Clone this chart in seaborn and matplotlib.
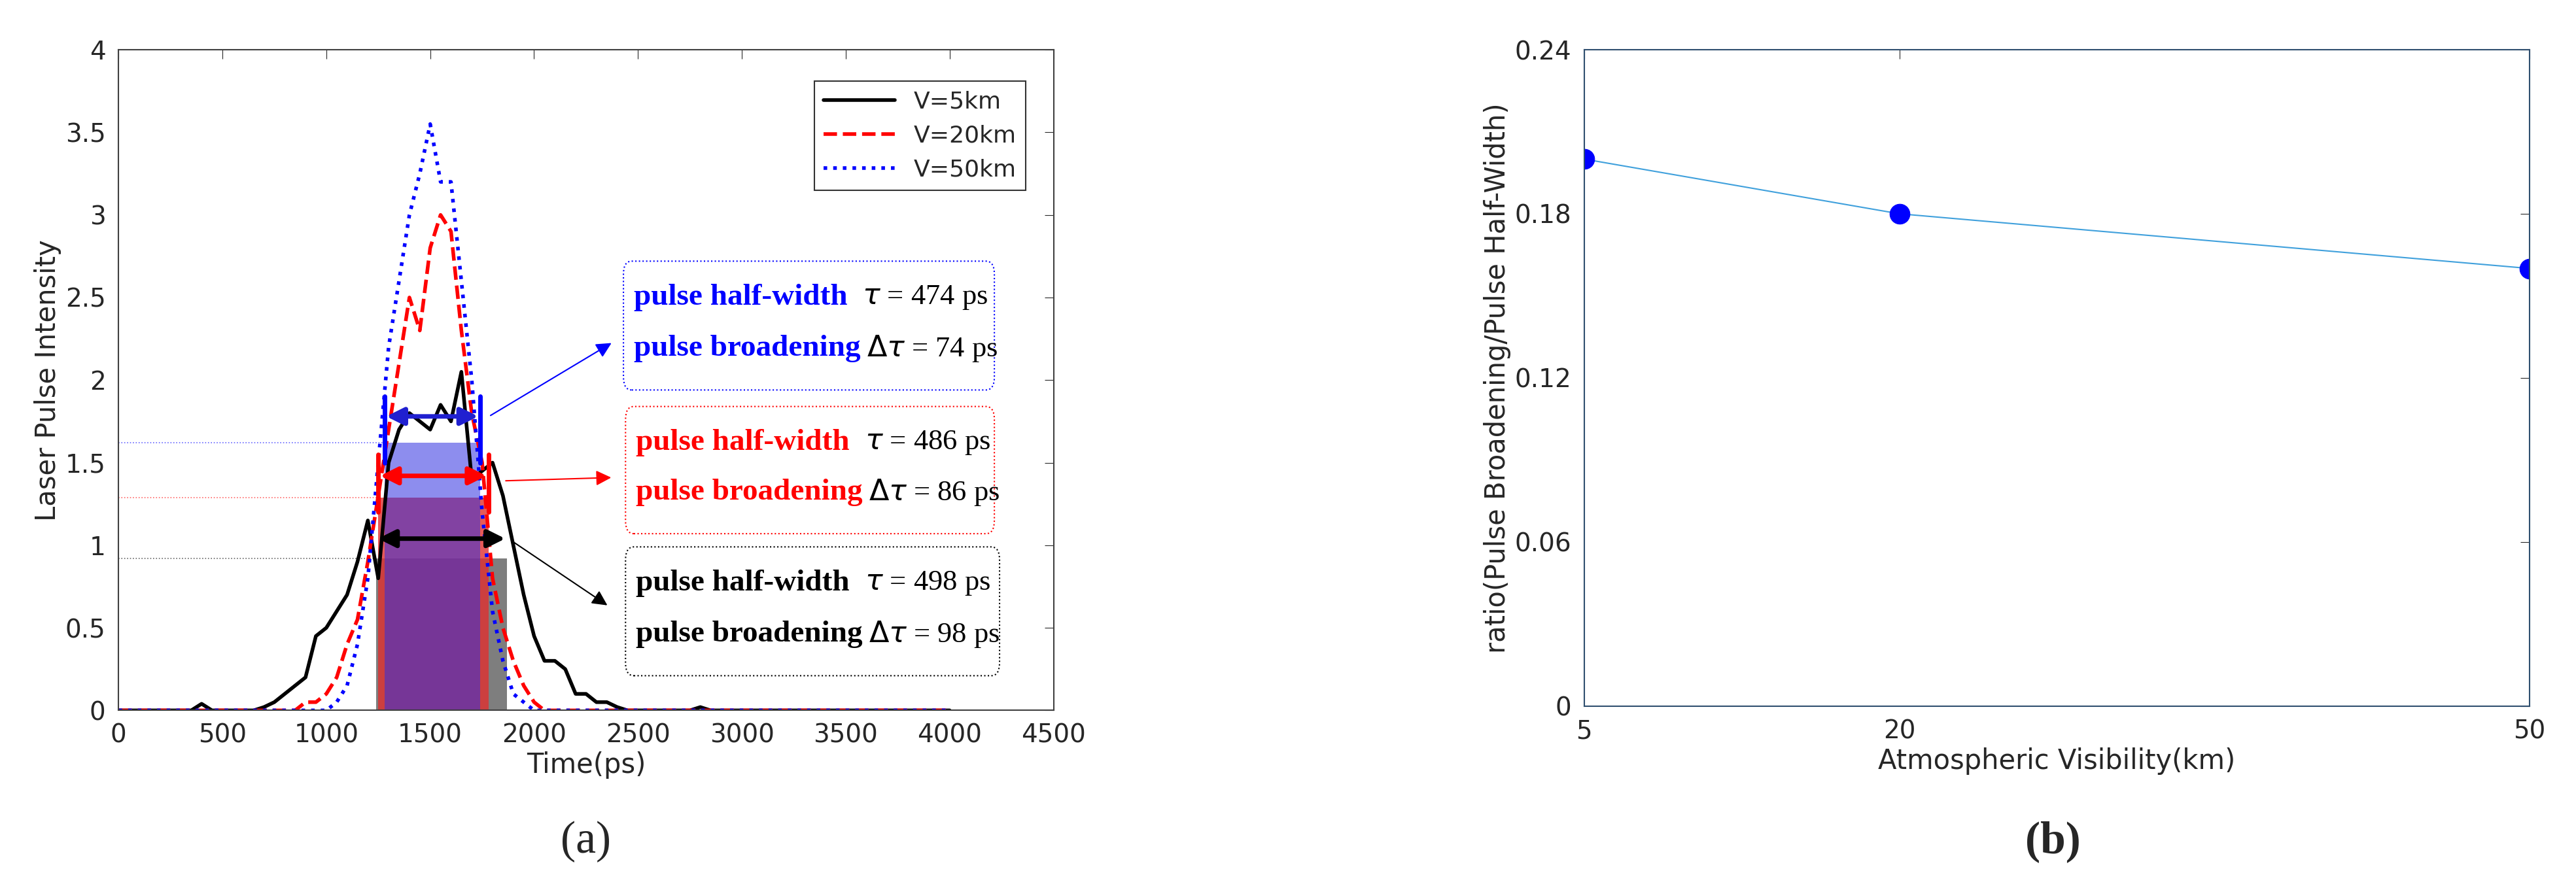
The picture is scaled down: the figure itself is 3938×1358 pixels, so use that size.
import matplotlib
matplotlib.use('Agg')
import matplotlib.pyplot as plt
import matplotlib.patches as patches
import seaborn as sns
import pandas as pd
import numpy as np

# pulse curves (a), sampled every 50 ps
time_ps = list(range(0, 4050, 50))
v5 = [0, 0, 0, 0, 0, 0, 0, 0, 0.04, 0, 0, 0, 0, 0, 0.02, 0.05, 0.1, 0.15, 0.2, 0.45,
      0.5, 0.6, 0.7, 0.9, 1.15, 0.8, 1.5, 1.7, 1.8, 1.75, 1.7, 1.85, 1.75, 2.05, 1.4, 1.45,
      1.5, 1.3, 1.0, 0.7, 0.45, 0.3, 0.3, 0.25, 0.1, 0.1, 0.05, 0.05, 0.02, 0, 0,
      0, 0, 0, 0, 0, 0.02, 0, 0, 0, 0, 0, 0, 0, 0, 0, 0, 0, 0, 0, 0, 0, 0, 0, 0, 0, 0,
      0, 0, 0, 0]
v20 = [0, 0, 0, 0, 0, 0, 0, 0, 0, 0, 0, 0, 0, 0, 0, 0, 0, 0, 0.05, 0.05,
       0.1, 0.2, 0.4, 0.55, 0.9, 1.3, 1.7, 2.1, 2.5, 2.3, 2.8, 3.0, 2.9, 2.3, 1.8, 1.5,
       0.8, 0.5, 0.3, 0.15, 0.05, 0, 0, 0, 0, 0, 0, 0, 0, 0, 0,
       0, 0, 0, 0, 0, 0, 0, 0, 0, 0, 0, 0, 0, 0, 0, 0, 0, 0, 0, 0, 0, 0, 0, 0, 0, 0,
       0, 0, 0, 0]
v50 = [0, 0, 0, 0, 0, 0, 0, 0, 0, 0, 0, 0, 0, 0, 0, 0, 0, 0, 0, 0,
       0, 0.05, 0.15, 0.4, 0.8, 1.5, 2.2, 2.6, 3.0, 3.25, 3.55, 3.2, 3.2, 2.6, 2.0, 1.2,
       0.6, 0.3, 0.1, 0.05, 0, 0, 0, 0, 0, 0, 0, 0, 0, 0, 0,
       0, 0, 0, 0, 0, 0, 0, 0, 0, 0, 0, 0, 0, 0, 0, 0, 0, 0, 0, 0, 0, 0, 0, 0, 0, 0,
       0, 0, 0, 0]

# half-width windows: (start, end, level)
win_black = (1240, 1870, 0.92)
win_red = (1250, 1780, 1.29)
win_blue = (1280, 1740, 1.62)

# ratio plot (b)
visibility = [5, 20, 50]
ratio = [0.20, 0.18, 0.16]

sns.set_style('white')
plt.rcParams['font.family'] = ['DejaVu Sans']

fig = plt.figure(figsize=(39.38, 13.58), dpi=100)
ax1 = fig.add_axes([0.046, 0.20, 0.363, 0.744])
ax2 = fig.add_axes([0.615, 0.205, 0.367, 0.739])

df = pd.DataFrame({'t': time_ps * 3,
                   'y': v5 + v20 + v50,
                   'V': ['V=5km'] * len(v5) + ['V=20km'] * len(v20) + ['V=50km'] * len(v50)})

# shaded windows
ax1.add_patch(patches.Rectangle((win_black[0], 0), win_black[1] - win_black[0], win_black[2],
                                color='#707070', alpha=0.9, lw=0))
ax1.add_patch(patches.Rectangle((win_red[0], 0), win_red[1] - win_red[0], win_red[2],
                                color='#e03030', alpha=0.8, lw=0))
ax1.add_patch(patches.Rectangle((win_blue[0], 0), win_blue[1] - win_blue[0], win_blue[2],
                                color='#3030e0', alpha=0.55, lw=0))
for w, c in [(win_blue, 'blue'), (win_red, 'red'), (win_black, 'black')]:
    ax1.plot([0, w[0]], [w[2], w[2]], ls=':', color=c, lw=1.2, alpha=0.6)

styles = {'V=5km': ('black', '-'), 'V=20km': ('red', '--'), 'V=50km': ('blue', ':')}
for name, (c, ls) in styles.items():
    sub = df[df['V'] == name]
    sns.lineplot(data=sub, x='t', y='y', ax=ax1, color=c, ls=ls, lw=4, label=name)

# double arrows
arrow_kw = dict(arrowstyle='<|-|>', mutation_scale=40, lw=5)
ax1.annotate('', xy=(win_blue[0], 1.78), xytext=(win_blue[1], 1.78),
             arrowprops=dict(color='#2020d0', **arrow_kw))
ax1.plot([win_blue[0]] * 2, [1.5, 1.9], color='blue', lw=5)
ax1.plot([win_blue[1]] * 2, [1.5, 1.9], color='blue', lw=5)
ax1.annotate('', xy=(win_red[0], 1.42), xytext=(win_red[1], 1.42),
             arrowprops=dict(color='red', **arrow_kw))
ax1.plot([win_red[0]] * 2, [1.2, 1.55], color='red', lw=5)
ax1.plot([win_red[1]] * 2, [1.2, 1.55], color='red', lw=5)
ax1.annotate('', xy=(win_black[0], 1.04), xytext=(win_black[1], 1.04),
             arrowprops=dict(color='black', **arrow_kw))

# info boxes
boxes = [('blue', (2430, 1.94), (4215, 2.72), '474', '74', (1783, 1.78), (2380, 2.23)),
         ('red', (2440, 1.07), (4215, 1.84), '486', '86', (1855, 1.39), (2380, 1.41)),
         ('black', (2440, 0.21), (4240, 0.99), '498', '98', (1888, 1.03), (2360, 0.63))]
for c, (x0, y0), (x1, y1), tau, dtau, a0, a1 in boxes:
    ax1.add_patch(patches.FancyBboxPatch((x0, y0), x1 - x0, y1 - y0,
                                         boxstyle='round,pad=0,rounding_size=40',
                                         fill=False, ec=c, ls=':', lw=1.5,
                                         mutation_aspect=0.002))
    ax1.text(x0 + 50, y1 - 0.22, 'pulse half-width', color=c, fontsize=34, weight='bold',
             family='Liberation Serif', va='center')
    ax1.text(x0 + 1150, y1 - 0.22, r'$\tau$ = ' + tau + ' ps', color='black', fontsize=32,
             family='Liberation Serif', va='center')
    ax1.text(x0 + 50, y0 + 0.25, 'pulse broadening', color=c, fontsize=34, weight='bold',
             family='Liberation Serif', va='center')
    ax1.text(x0 + 1170, y0 + 0.25, r'$\Delta\tau$ = ' + dtau + ' ps', color='black', fontsize=32,
             family='Liberation Serif', va='center')
    ax1.annotate('', xy=a1, xytext=a0,
                 arrowprops=dict(arrowstyle='-|>', color=c, lw=1.5, mutation_scale=35))

ax1.set_xlim(0, 4500)
ax1.set_ylim(0, 4)
ax1.set_xticks(range(0, 4501, 500))
ax1.set_yticks([0, 0.5, 1, 1.5, 2, 2.5, 3, 3.5, 4])
ax1.set_yticklabels(['0', '0.5', '1', '1.5', '2', '2.5', '3', '3.5', '4'])
ax1.set_xlabel('Time(ps)', fontsize=30)
ax1.set_ylabel('Laser Pulse Intensity', fontsize=30)
ax1.tick_params(labelsize=28, direction='in', length=10, top=True, right=True, pad=14)
for s in ax1.spines.values():
    s.set_color('#404040')
    s.set_linewidth(1.5)
leg = ax1.legend(loc='upper right', fontsize=26, frameon=True, fancybox=False,
                 edgecolor='black', handlelength=3, bbox_to_anchor=(0.983, 0.97))
leg.get_frame().set_linewidth(1.5)

# (b)
sns.lineplot(x=visibility, y=ratio, ax=ax2, color='#3fa0dc', lw=1.5,
             marker='o', markersize=22, markerfacecolor='blue', markeredgecolor='blue')
ax2.set_xlim(5, 50)
ax2.set_ylim(0, 0.24)
ax2.set_xticks(visibility)
ax2.set_yticks([0, 0.06, 0.12, 0.18, 0.24])
ax2.set_yticklabels(['0', '0.06', '0.12', '0.18', '0.24'])
ax2.set_xlabel('Atmospheric Visibility(km)', fontsize=30)
ax2.set_ylabel('ratio(Pulse Broadening/Pulse Half-Width)', fontsize=30)
ax2.tick_params(labelsize=28, direction='in', length=10, top=True, right=True, pad=14)
for s in ax2.spines.values():
    s.set_color('#2f4f6f')
    s.set_linewidth(1.5)

fig.text(0.2275, 0.04, '(a)', fontsize=50, family='Liberation Serif', ha='center')
fig.text(0.797, 0.04, '(b)', fontsize=50, family='Liberation Serif', ha='center', weight='bold')

fig.savefig('out.png', dpi=100)
